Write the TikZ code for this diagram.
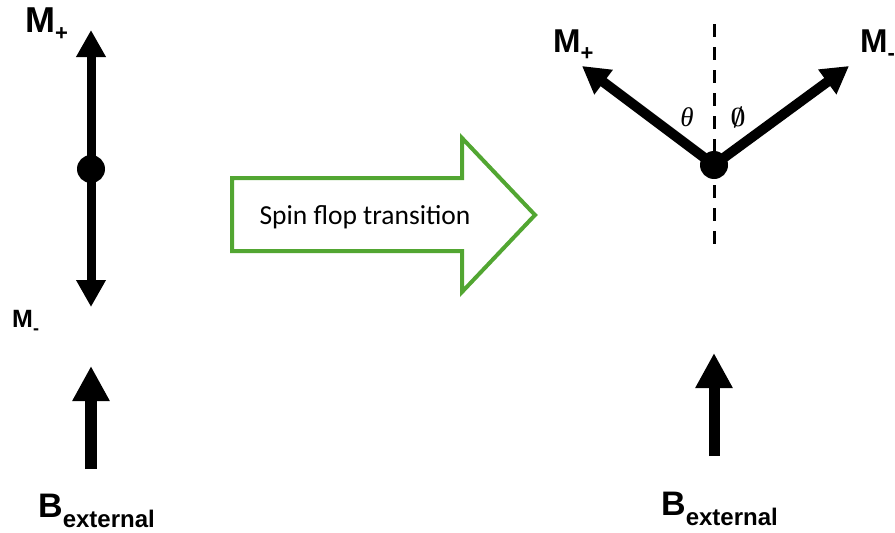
\documentclass[tikz,border=0pt]{standalone}
\usepackage{fontspec}
\setmainfont{Liberation Sans}
\newfontfamily\calibri{Carlito}
\newfontfamily\serifit{Liberation Serif}
\usetikzlibrary{arrows.meta}
\definecolor{flopgreen}{RGB}{82,166,50}
\tikzset{
  spin/.style={line width=9pt, line cap=butt, -{Triangle[length=27pt,width=28pt]}},
  tilt/.style={line width=10pt, line cap=butt, -{Triangle[length=27pt,width=29pt]}},
  field/.style={line width=12pt, line cap=butt, -{Triangle[length=35pt,width=35pt]}},
  dotc/.style={circle, fill=black, inner sep=0pt, minimum size=28pt},
  lbl/.style={inner sep=0pt, font=\bfseries},
  ang/.style={inner sep=0pt},
  axisline/.style={line width=3pt, dash pattern=on 13pt off 10pt}
}
\begin{document}
\begin{tikzpicture}[x=1pt,y=-1pt]
\useasboundingbox (0,0) rectangle (895,533);
\clip (0,0) rectangle (895,533);
% ---- left: collinear state ----
\coordinate (lc) at (91,169);
\coordinate (lup) at (91,30);
\coordinate (ldn) at (91,307);
\draw[spin] (lc) -- (lup);
\draw[spin] (lc) -- (ldn);
\node[dotc] (ldot) at (lc) {};
\node[lbl, anchor=base west] (lmp) at (25,32) {\fontsize{36}{36}\selectfont M\fontsize{22}{22}\selectfont\raisebox{-8pt}{+}};
\node[lbl, anchor=base west] (lmm) at (12,327) {\fontsize{25}{25}\selectfont M\fontsize{18}{18}\selectfont\raisebox{-7pt}{-}};
% left field
\coordinate (lbb) at (91,469);
\coordinate (lbt) at (91,366);
\draw[field] (lbb) -- (lbt);
\node[lbl, anchor=base west] (lB) at (38,517) {\fontsize{34}{34}\selectfont B\fontsize{24}{24}\selectfont\raisebox{-10pt}{external}};
% ---- transition arrow ----
\draw[flopgreen, line width=4pt, line join=miter]
  (232,178) -- (462,178) -- (462,138) -- (535,215) -- (462,292) -- (462,251) -- (232,251) -- cycle;
\node[inner sep=0pt, anchor=base, font=\calibri\fontsize{27.5}{27.5}\selectfont] (sft) at (365,224) {Spin flop transition};
% ---- right: spin-flop state ----
\coordinate (rtop) at (714,24);
\coordinate (rbot) at (714,245);
\draw[axisline] (rtop) -- (rbot);
\coordinate (rc) at (714,165);
\coordinate (rl) at (582,66);
\coordinate (rr) at (849,66);
\draw[tilt] (rc) -- (rl);
\draw[tilt] (rc) -- (rr);
\node[dotc] (rdot) at (rc) {};
\node[ang, anchor=base] (th) at (687,126) {\serifit\itshape\fontsize{27}{27}\selectfont θ};
\node[ang, anchor=base] (ph) at (738,126) {\scalebox{2.6}{\boldmath$\emptyset$}};
\node[lbl, anchor=base west] (rmp) at (553,52) {\fontsize{33}{33}\selectfont M\fontsize{22}{22}\selectfont\raisebox{-8pt}{+}};
\node[lbl, anchor=base west] (rmm) at (860,52) {\fontsize{33}{33}\selectfont M\fontsize{22}{22}\selectfont\raisebox{-8pt}{-}};
% right field
\coordinate (rbb) at (714,456);
\coordinate (rbt) at (714,353);
\draw[field, line width=11pt] (rbb) -- (rbt);
\node[lbl, anchor=base west] (rB) at (661,515) {\fontsize{34}{34}\selectfont B\fontsize{24}{24}\selectfont\raisebox{-10pt}{external}};
\end{tikzpicture}
\end{document}
